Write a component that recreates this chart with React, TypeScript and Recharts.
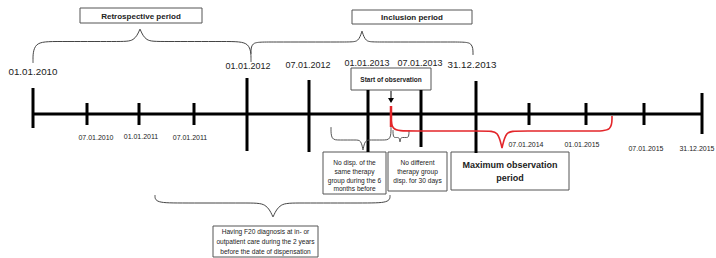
import React from "react";
import { ComposedChart, XAxis, YAxis, Scatter, ReferenceArea } from "recharts";

// ---- timeline ticks (schematic positions on the timeline) ----
const tickDates = [
  "01.01.2010", "07.01.2010", "01.01.2011", "07.01.2011", "01.01.2012", "07.01.2012",
  "01.01.2013", "07.01.2013", "31.12.2013", "07.01.2014", "01.01.2015", "07.01.2015", "31.12.2015",
];
const tickPosition = [33, 87, 139, 194, 247, 309, 368, 421, 476, 529, 586, 644, 702];
const tickUpper = [88, 103, 103, 103, 78, 80, 90, 90, 81, 103, 103, 103, 93];
const tickLower = [128, 125, 125, 125, 151, 152, 152, 147, 153, 125, 125, 125, 134];
const axisLevel = 114;

// label layout for the dates
const dateLabelX = [33, 96, 141, 190, 248, 308, 367, 420, 472, 526, 582, 646, 697];
const dateLabelY = [71, 137, 136, 137, 66, 65, 63, 63, 64, 144, 144, 148, 148];
const dateLabelSize = [9.8, 7, 7, 7, 9, 9, 9, 9, 9.8, 7, 7, 7, 7];

// start of observation (red marker)
const startObservation = 391;
const startMarkerUpper = 106;
const startMarkerLower = 127;

// ---- annotation boxes ----
const boxTitles = [
  ["Retrospective period"],
  ["Inclusion period"],
  ["Start of observation"],
  ["No disp. of the", "same  therapy", "group during the 6", "months before"],
  ["No different", "therapy group", "disp. for 30 days"],
  ["Maximum observation", "period"],
  ["Having F20 diagnosis at in- or", "outpatient care during the 2 years", "before the date of dispensation"],
];
const boxLeft = [80, 352, 351, 323, 388, 451, 213];
const boxRight = [202, 472, 431, 386, 447, 569, 318];
const boxTop = [8, 10, 68, 152, 152, 152, 226];
const boxBottom = [23, 24, 90, 194, 191, 190, 257];
const boxTextSize = [8, 8, 6.5, 6.6, 6.6, 9, 6.6];
const boxTextBold = [true, true, true, false, false, true, false];
const boxLineGap = [0, 0, 0, 8.9, 9.2, 13, 10];
const boxFirstLine = [16, 17, 79, 161.7, 161.7, 165, 231];

// ---- braces ----
type Brace = {
  from: number; to: number; tip: number;
  endA: number; endB: number; mid: number; tipLevel: number; r: number;
  color: string; width: number;
};
const braces: Brace[] = [
  { from: 33, to: 251, tip: 140, endA: 63, endB: 62, mid: 41.5, tipLevel: 29, r: 22, color: "#444", width: 1 },
  { from: 251, to: 473, tip: 362, endA: 54, endB: 55, mid: 42, tipLevel: 31, r: 14, color: "#444", width: 1 },
  { from: 331, to: 391, tip: 363, endA: 127, endB: 127, mid: 140, tipLevel: 150, r: 8, color: "#555", width: 1 },
  { from: 393, to: 409, tip: 400, endA: 130, endB: 130, mid: 137.5, tipLevel: 142, r: 3, color: "#555", width: 1 },
  { from: 391, to: 612, tip: 502, endA: 114, endB: 116, mid: 131, tipLevel: 148, r: 16, color: "#e3262a", width: 1.6 },
  { from: 155, to: 390, tip: 273, endA: 195, endB: 195, mid: 203, tipLevel: 217, r: 26, color: "#444", width: 1 },
];

function bracePoints(b: Brace) {
  const pts: { x: number; y: number }[] = [];
  const push = (x: number, y: number, n = 1) => { for (let i = 0; i < n; i++) pts.push({ x, y }); };
  push(b.from, b.endA, 3);
  push(b.from, b.mid);
  push(b.from + b.r, b.mid);
  push(b.tip - b.r * 0.9, b.mid);
  push(b.tip - b.r * 0.25, b.mid);
  push(b.tip, b.tipLevel, 3);
  push(b.tip + b.r * 0.25, b.mid);
  push(b.tip + b.r * 0.9, b.mid);
  push(b.to - b.r, b.mid);
  push(b.to, b.mid);
  push(b.to, b.endB, 3);
  return pts;
}

const FONT = "'Liberation Sans', Arial, sans-serif";
const Empty = () => <g />;

const TextShape = (props: any) => {
  const { cx, cy, payload } = props;
  const lines: string[] = payload.lines;
  return (
    <text
      x={cx}
      textAnchor="middle"
      dominantBaseline="central"
      fontSize={payload.size}
      fontWeight={payload.bold ? 700 : 400}
      fill="#222"
      fontFamily={FONT}
    >
      {lines.map((l, i) => (
        <tspan key={i} x={cx} y={cy + i * payload.gap}>
          {l}
        </tspan>
      ))}
    </text>
  );
};

const ArrowHead = (props: any) => {
  const { cx, cy } = props;
  return <polygon points={`${cx - 3},${cy - 5} ${cx + 3},${cy - 5} ${cx},${cy}`} fill="#000" />;
};

export default function App() {
  const dateTexts = tickDates.map((d, i) => ({
    x: dateLabelX[i], y: dateLabelY[i], lines: [d], size: dateLabelSize[i], bold: false, gap: 0,
  }));
  const boxTexts = boxTitles.map((t, i) => ({
    x: (boxLeft[i] + boxRight[i]) / 2, y: boxFirstLine[i], lines: t, size: boxTextSize[i],
    bold: boxTextBold[i], gap: boxLineGap[i],
  }));
  const texts = [...dateTexts, ...boxTexts];

  return (
    <div style={{ position: "absolute", left: 0, top: 0, width: 716, height: 258, background: "#fff" }}>
      <ComposedChart width={716} height={258} margin={{ top: 0, right: 0, bottom: 0, left: 0 }}>
        <XAxis type="number" dataKey="x" domain={[0, 716]} hide allowDataOverflow />
        <YAxis type="number" dataKey="y" domain={[0, 258]} reversed hide allowDataOverflow />

        {/* main axis */}
        <Scatter
          data={[{ x: tickPosition[0], y: axisLevel }, { x: tickPosition[tickPosition.length - 1], y: axisLevel }]}
          line={{ stroke: "#000", strokeWidth: 3 }}
          shape={Empty}
          isAnimationActive={false}
        />
        {/* ticks */}
        {tickPosition.map((p, i) => (
          <Scatter
            key={"t" + i}
            data={[{ x: p, y: tickUpper[i] }, { x: p, y: tickLower[i] }]}
            line={{ stroke: "#000", strokeWidth: 3 }}
            shape={Empty}
            isAnimationActive={false}
          />
        ))}

        {/* braces */}
        {braces.map((b, i) => (
          <Scatter
            key={"b" + i}
            data={bracePoints(b)}
            line={{ stroke: b.color, strokeWidth: b.width }}
            lineJointType="basis"
            shape={Empty}
            isAnimationActive={false}
          />
        ))}

        {/* start of observation marker */}
        <Scatter
          data={[{ x: startObservation, y: startMarkerUpper }, { x: startObservation, y: startMarkerLower }]}
          line={{ stroke: "#e3262a", strokeWidth: 2.5 }}
          shape={Empty}
          isAnimationActive={false}
        />
        <Scatter
          data={[{ x: startObservation, y: 91 }, { x: startObservation, y: 99 }]}
          line={{ stroke: "#000", strokeWidth: 1 }}
          shape={Empty}
          isAnimationActive={false}
        />
        <Scatter data={[{ x: startObservation, y: 103 }]} shape={ArrowHead} isAnimationActive={false} />

        {/* boxes */}
        {boxTitles.map((_, i) => (
          <ReferenceArea
            key={"a" + i}
            x1={boxLeft[i]}
            x2={boxRight[i]}
            y1={boxTop[i]}
            y2={boxBottom[i]}
            fill="#fff"
            fillOpacity={1}
            stroke="#555"
            strokeWidth={1}
            ifOverflow="visible"
          />
        ))}

        {/* texts */}
        <Scatter data={texts} shape={TextShape} isAnimationActive={false} />
      </ComposedChart>
    </div>
  );
}
